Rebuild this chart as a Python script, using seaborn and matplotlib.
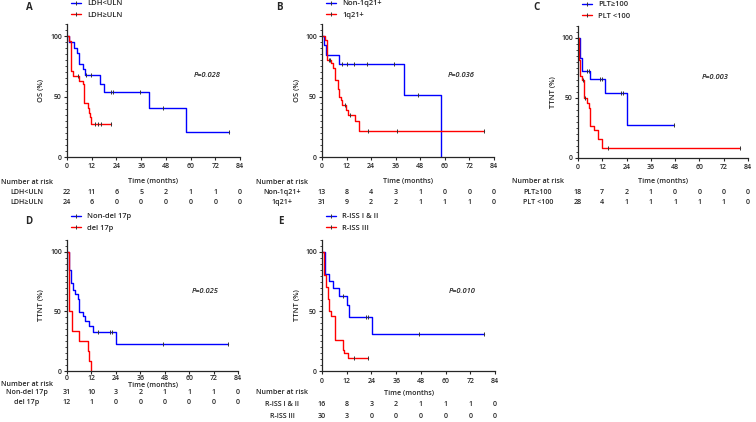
import numpy as np
import matplotlib
matplotlib.use("Agg")
import matplotlib.pyplot as plt
import seaborn as sns
from matplotlib import transforms
from matplotlib.lines import Line2D

sns.set_style("ticks")
plt.rcParams['font.family'] = ['Open Sans', 'DejaVu Sans']
plt.rcParams['font.weight'] = 'semibold'

W, H = 756, 422
BLUE = '#0000FF'
RED = '#FF0000'
TICK = '#333333'
FS = 5.1

months = [0, 12, 24, 36, 48, 60, 72, 84]

# A - LDH
a_labels = ['LDH<ULN', 'LDH≥ULN']
a_t1 = [0, 0.8, 3.5, 4.8, 5.8, 7.8, 8.6, 15.8, 17.8, 39.6, 57.7, 78.5]
a_s1 = [100, 95.5, 90.5, 86.4, 77, 72.5, 67.5, 60.5, 54, 40.5, 20.3, 20.3]
a_c1 = [9.4, 11.6, 21.3, 22.1, 35.5, 46.5, 78.5]
a_t2 = [0, 0.8, 1.9, 2.9, 5.8, 7.6, 8.1, 10.0, 10.5, 11.3, 11.8, 21.5]
a_s2 = [100, 95.8, 70.8, 66.7, 63, 60, 44.5, 40.5, 36.5, 33, 27.5, 27.5]
a_c2 = [5.2, 13.7, 15.0, 16.6, 21.5]
a_risk1 = [22, 11, 6, 5, 2, 1, 1, 0]
a_risk2 = [24, 6, 0, 0, 0, 0, 0, 0]

# B - 1q21
b_labels = ['Non-1q21+', '1q21+']
b_t1 = [0, 1.1, 2.1, 8.3, 40.0, 58.3]
b_s1 = [100, 92.3, 84.6, 76.9, 51.3, 0]
b_c1 = [10.0, 12.2, 15.4, 21.9, 35.3, 47.0]
b_t2 = [0, 1.6, 2.4, 4.5, 5.3, 6.2, 7.8, 8.4, 9.2, 10.0, 11.7, 12.5, 16.2, 18.3, 79.0]
b_s2 = [100, 96.8, 80.6, 77.4, 74.0, 64.0, 56.0, 50.0, 47.0, 43.0, 39.0, 35.0, 29.5, 21.7, 21.7]
b_c2 = [3.2, 4.0, 11.0, 13.5, 22.4, 36.5, 79.0]
b_risk1 = [13, 8, 4, 3, 1, 0, 0, 0]
b_risk2 = [31, 9, 2, 2, 1, 1, 1, 0]

# C - PLT
c_labels = ['PLT≥100', 'PLT <100']
c_t1 = [0, 0.8, 1.8, 6.1, 13.2, 24.4, 47.4]
c_s1 = [100, 83.3, 72.2, 65.5, 54.5, 27.5, 27.5]
c_c1 = [4.4, 5.5, 10.7, 12.0, 21.4, 22.2, 47.4]
c_t2 = [0, 0.5, 1.2, 2.1, 2.8, 4.4, 5.4, 6.1, 7.9, 10.0, 12.0, 80.0]
c_s2 = [100, 82, 68, 65, 50, 46, 42, 27, 23.5, 15.5, 8, 8]
c_c2 = [2.4, 3.6, 15.0, 80.0]
c_risk1 = [18, 7, 2, 1, 0, 0, 0, 0]
c_risk2 = [28, 4, 1, 1, 1, 1, 1, 0]

# D - del 17p
d_labels = ['Non-del 17p', 'del 17p']
d_t1 = [0, 0.8, 2.0, 2.9, 4.1, 5.2, 5.9, 7.7, 9.0, 10.6, 12.7, 24.0, 79.3]
d_s1 = [100, 84.4, 74.2, 67.8, 64.4, 60.3, 49.2, 45.8, 42.2, 38.0, 33.0, 22.8, 22.8]
d_c1 = [15.0, 21.2, 22.0, 47.3, 79.3]
d_t2 = [0, 0.8, 2.6, 6.0, 10.1, 10.6, 11.7]
d_s2 = [100, 50, 33.3, 25, 16.7, 8.3, 0]
d_c2 = []
d_risk1 = [31, 10, 3, 2, 1, 1, 1, 0]
d_risk2 = [12, 1, 0, 0, 0, 0, 0, 0]

# E - R-ISS
e_labels = ['R-ISS I & II', 'R-ISS III']
e_t1 = [0, 1.3, 3.2, 5.3, 8.1, 12.1, 12.9, 24.2, 78.8]
e_s1 = [100, 81.7, 75.6, 69.4, 63.0, 55.3, 45.6, 31.1, 31.1]
e_c1 = [10.2, 21.5, 22.3, 47.2, 78.8]
e_t2 = [0, 0.8, 1.9, 2.7, 3.6, 4.4, 6.1, 10.0, 10.5, 12.6, 22.3]
e_s2 = [100, 81, 70.6, 60.3, 50, 45.8, 26, 18, 14.8, 10.8, 10.8]
e_c2 = [15.3, 22.3]
e_risk1 = [16, 8, 3, 2, 1, 1, 1, 0]
e_risk2 = [30, 3, 0, 0, 0, 0, 0, 0]

p_values = ['P=0.028', 'P=0.036', 'P=0.003', 'P=0.025', 'P=0.010']

# panel layout in pixels: left, right, top(y=110), bottom(y=0)
panels = [
    dict(tag='A', box=(67, 240, 24, 157), ylab='OS (%)', labels=a_labels,
         curves=[(a_t1, a_s1, a_c1), (a_t2, a_s2, a_c2)], risk=[a_risk1, a_risk2],
         xl_y=182, rows=(192, 203), pad=2.0, tag_xy=(29, 8), leg_top=0),
    dict(tag='B', box=(322, 494, 24, 157), ylab='OS (%)', labels=b_labels,
         curves=[(b_t1, b_s1, b_c1), (b_t2, b_s2, b_c2)], risk=[b_risk1, b_risk2],
         xl_y=182, rows=(192, 203), pad=2.0, tag_xy=(279, 8), leg_top=0),
    dict(tag='C', box=(578, 748, 26, 158), ylab='TTNT (%)', labels=c_labels,
         curves=[(c_t1, c_s1, c_c1), (c_t2, c_s2, c_c2)], risk=[c_risk1, c_risk2],
         xl_y=181, rows=(192, 203), pad=2.0, tag_xy=(536, 8), leg_top=1),
    dict(tag='D', box=(67, 238, 240, 371), ylab='TTNT (%)', labels=d_labels,
         curves=[(d_t1, d_s1, d_c1), (d_t2, d_s2, d_c2)], risk=[d_risk1, d_risk2],
         xl_y=385, rows=(393, 403), pad=0.3, tag_xy=(29, 221), leg_top=213),
    dict(tag='E', box=(322, 495, 240, 371), ylab='TTNT (%)', labels=e_labels,
         curves=[(e_t1, e_s1, e_c1), (e_t2, e_s2, e_c2)], risk=[e_risk1, e_risk2],
         xl_y=393, rows=(404, 416), pad=2.5, tag_xy=(281, 221), leg_top=213),
]

fig = plt.figure(figsize=(W / 100, H / 100), dpi=100)


def km_curve(ax, t, s, cens, color):
    sns.lineplot(x=t, y=s, ax=ax, color=color, linewidth=1.0,
                 drawstyle='steps-post', estimator=None, sort=False)
    if len(cens):
        idx = np.searchsorted(t, cens, side='right') - 1
        sns.scatterplot(x=cens, y=np.asarray(s)[idx], ax=ax, marker='|', s=10,
                        color=TICK, linewidth=0.7, zorder=3)


for p, pv in zip(panels, p_values):
    l, r, t, b = p['box']
    ax = fig.add_axes([l / W, 1 - b / H, (r - l) / W, (b - t) / H])
    for (tt, ss, cc), col in zip(p['curves'], [BLUE, RED]):
        km_curve(ax, tt, ss, cc, col)

    ax.set_xlim(0, 84)
    ax.set_ylim(0, 110)
    ax.set_xticks(months)
    ax.set_yticks([0, 50, 100])
    ax.set_yticks(range(0, 111, 5), minor=True)
    sns.despine(ax=ax)
    for sp in ['left', 'bottom']:
        ax.spines[sp].set_linewidth(0.9)
    ax.tick_params(axis='both', length=2.5, width=0.8, labelsize=5)
    ax.tick_params(axis='x', pad=p['pad'])
    ax.tick_params(axis='y', pad=1.2)
    ax.tick_params(which='minor', length=1.6, width=0.6)

    # y label
    fig.text((l - 25) / W, 1 - (t + b) / 2 / H, p['ylab'], rotation=90,
             ha='center', va='center', fontsize=FS + 0.3)
    # panel tag
    fig.text(p['tag_xy'][0] / W, 1 - p['tag_xy'][1] / H, p['tag'],
             ha='center', va='center', fontsize=7, fontweight='bold')
    # p value
    ax.text(68, 67, pv, style='italic', ha='center', va='center', fontsize=FS + 0.3)

    # legend
    handles = [Line2D([0], [0], color=c, lw=1.0, marker='|', markersize=3.5,
                      markeredgewidth=0.7, markeredgecolor=TICK) for c in [BLUE, RED]]
    ax.legend(handles=handles, labels=p['labels'], loc='upper left',
              bbox_to_anchor=(3.5 / (r - l), (b - p['leg_top']) / (b - t)),
              frameon=False, fontsize=FS + 0.3, handlelength=1.45, handletextpad=0.8,
              labelspacing=0.6, borderpad=0, borderaxespad=0)

    # risk table
    tr = transforms.blended_transform_factory(ax.transData, fig.transFigure)
    ax.text(42, 1 - p['xl_y'] / H, 'Time (months)', transform=tr,
            ha='center', va='center', fontsize=FS, clip_on=False)
    cx = (l - 40) / W
    fig.text(cx, 1 - p['xl_y'] / H, 'Number at risk', ha='center', va='center',
             fontsize=FS)
    for lab, nums, ry in zip(p['labels'], p['risk'], p['rows']):
        fig.text(cx, 1 - ry / H, lab, ha='center', va='center', fontsize=FS)
        for m, n in zip(months, nums):
            ax.text(m, 1 - ry / H, str(n), transform=tr, ha='center',
                    va='center', fontsize=FS, clip_on=False)

fig.savefig('out.png', dpi=100)
